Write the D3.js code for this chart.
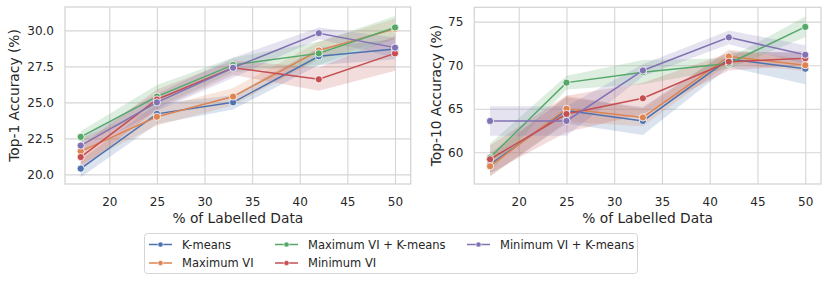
<!DOCTYPE html>
<html>
<head>
<meta charset="utf-8">
<script src="https://cdn.jsdelivr.net/npm/d3@7"></script>
<style>
  body { margin: 0; background: #fff; }
  text { font-family: "DejaVu Sans", sans-serif; fill: #262626; }
</style>
</head>
<body>
<svg width="830" height="283"></svg>
<script>
const xs = [17, 25, 33, 42, 50];
const names = ["K-means", "Maximum VI", "Maximum VI + K-means", "Minimum VI", "Minimum VI + K-means"];
const colors = ["#4c72b0", "#dd8452", "#55a868", "#c44e52", "#8172b3"];

// Top-1 accuracy means and CI half widths
const top1 = [
  [20.4, 24.2, 25.0, 28.2, 28.7],
  [21.6, 24.0, 25.4, 28.6, 30.1],
  [22.6, 25.4, 27.6, 28.4, 30.2],
  [21.2, 25.2, 27.4, 26.6, 28.4],
  [22.0, 25.0, 27.4, 29.8, 28.8]
];
const top1Err = [
  [0.6, 0.7, 0.5, 0.6, 0.7],
  [0.9, 0.6, 0.6, 0.6, 0.7],
  [0.4, 0.8, 0.5, 0.8, 0.8],
  [0.8, 0.7, 0.5, 0.8, 1.2],
  [0.5, 0.6, 0.7, 0.4, 0.7]
];
// Top-10 accuracy
const top10 = [
  [58.6, 64.8, 63.6, 70.7, 69.6],
  [58.4, 65.0, 64.0, 71.0, 70.0],
  [59.4, 68.0, 69.2, 70.2, 74.4],
  [59.2, 64.4, 66.2, 70.4, 70.8],
  [63.6, 63.6, 69.4, 73.2, 71.2]
];
const top10Err = [
  [1.3, 1.5, 1.6, 0.9, 1.8],
  [1.2, 1.5, 1.0, 0.8, 0.7],
  [1.6, 0.8, 1.4, 0.6, 1.2],
  [1.6, 2.1, 1.8, 1.0, 0.8],
  [1.7, 1.7, 0.7, 0.8, 1.1]
];
const top1Ticks = [20.0, 22.5, 25.0, 27.5, 30.0];
const top10Ticks = [60, 65, 70, 75];
const xTicks = [20, 25, 30, 35, 40, 45, 50];

const svg = d3.select("svg");
const grid = "#d5d5d5";

function panel(left, right, top, bottom, ydom, yticks, yfmt, ylabel, labelX, means, errs) {
  const x = d3.scaleLinear().domain([15.35, 51.65]).range([left, right]);
  const y = d3.scaleLinear().domain(ydom).range([bottom, top]);
  const g = svg.append("g");

  g.append("g")
    .attr("transform", `translate(0,${bottom})`)
    .call(d3.axisBottom(x).tickValues(xTicks).tickSize(-(bottom - top)).tickPadding(13.5))
    .call(a => a.select(".domain").remove())
    .call(a => a.selectAll("line").attr("stroke", grid).attr("stroke-width", 1.1))
    .call(a => a.selectAll("text").attr("font-size", 12).attr("font-family", "DejaVu Sans").attr("fill", "#262626"));

  g.append("g")
    .attr("transform", `translate(${left},0)`)
    .call(d3.axisLeft(y).tickValues(yticks).tickFormat(yfmt).tickSize(-(right - left)).tickPadding(11))
    .call(a => a.select(".domain").remove())
    .call(a => a.selectAll("line").attr("stroke", grid).attr("stroke-width", 1.1))
    .call(a => a.selectAll("text").attr("font-size", 12).attr("font-family", "DejaVu Sans").attr("fill", "#262626"));

  g.append("rect")
    .attr("x", left).attr("y", top)
    .attr("width", right - left).attr("height", bottom - top)
    .attr("fill", "none").attr("stroke", grid).attr("stroke-width", 1.3);

  const area = d3.area()
    .x((d, i) => x(xs[i]))
    .y0(d => y(d[0] - d[1]))
    .y1(d => y(d[0] + d[1]));
  const line = d3.line().x((d, i) => x(xs[i])).y(d => y(d));

  means.forEach((m, s) => {
    g.append("path")
      .datum(m.map((v, i) => [v, errs[s][i]]))
      .attr("d", area)
      .attr("fill", colors[s])
      .attr("fill-opacity", 0.2);
  });
  means.forEach((m, s) => {
    g.append("path")
      .datum(m)
      .attr("d", line)
      .attr("fill", "none")
      .attr("stroke", colors[s])
      .attr("stroke-width", 1.5);
    g.selectAll(null)
      .data(m)
      .join("circle")
      .attr("cx", (d, i) => x(xs[i]))
      .attr("cy", d => y(d))
      .attr("r", 3.6)
      .attr("fill", colors[s])
      .attr("stroke", "white")
      .attr("stroke-width", 0.8);
  });

  g.append("text")
    .attr("x", (left + right) / 2)
    .attr("y", 223)
    .attr("text-anchor", "middle")
    .attr("font-size", 13.8)
    .text("% of Labelled Data");

  g.append("text")
    .attr("transform", `translate(${labelX},${(top + bottom) / 2}) rotate(-90)`)
    .attr("text-anchor", "middle")
    .attr("dy", "0.35em")
    .attr("font-size", 13.8)
    .text(ylabel);
}

panel(65, 410.7, 7, 184, [19.33, 31.62], top1Ticks, d3.format(".1f"), "Top-1 Accuracy (%)", 14.5, top1, top1Err);
panel(474.3, 821, 7.3, 184, [56.36, 76.65], top10Ticks, d3.format("d"), "Top-10 Accuracy (%)", 436, top10, top10Err);

// legend
const leg = svg.append("g");
leg.append("rect")
  .attr("x", 144.5).attr("y", 233.5)
  .attr("width", 493).attr("height", 40)
  .attr("rx", 3)
  .attr("fill", "white").attr("stroke", "#d5d5d5");
const colX = [149, 275, 467];
names.forEach((n, i) => {
  const col = i < 2 ? 0 : i < 4 ? 1 : 2;
  const row = i < 4 ? i % 2 : 0;
  const gx = colX[col];
  const gy = 244.5 + row * 18.5;
  leg.append("line")
    .attr("x1", gx).attr("x2", gx + 23)
    .attr("y1", gy).attr("y2", gy)
    .attr("stroke", colors[i]).attr("stroke-width", 1.5);
  leg.append("circle")
    .attr("cx", gx + 11.5).attr("cy", gy).attr("r", 2.6)
    .attr("fill", colors[i]).attr("stroke", "white").attr("stroke-width", 0.6);
  leg.append("text")
    .attr("x", gx + 33).attr("y", gy)
    .attr("dy", "0.35em")
    .attr("font-size", 11.5)
    .text(n);
});
</script>
</body>
</html>
